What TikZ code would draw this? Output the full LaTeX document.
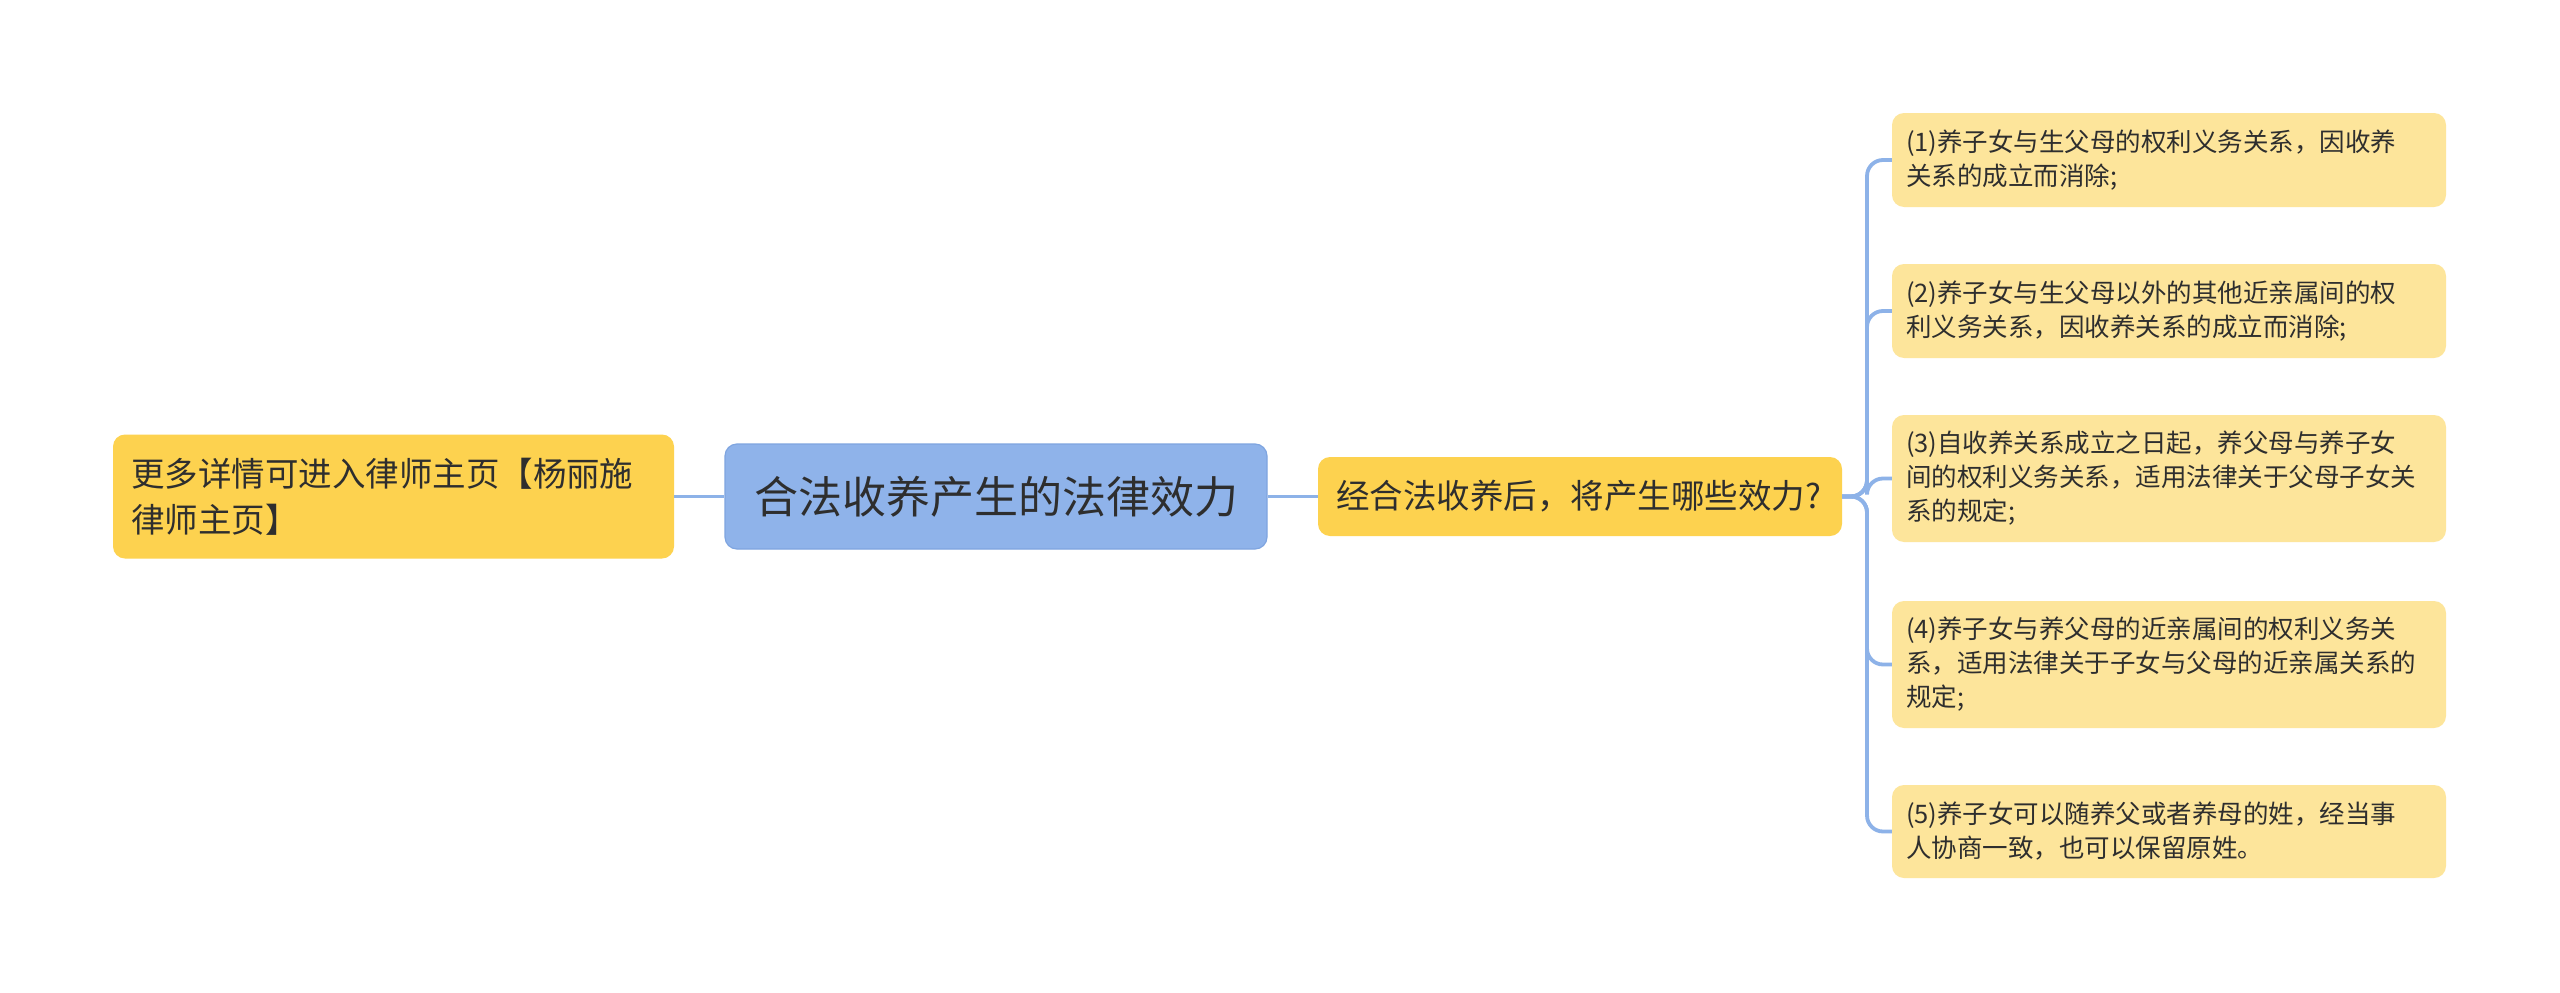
\documentclass[tikz,border=0pt]{standalone}
\usepackage{fontspec}
\setmainfont{Noto Sans CJK SC}
\definecolor{cblue}{HTML}{8FB3EA}
\definecolor{cblueb}{HTML}{7FA5E0}
\definecolor{cyel}{HTML}{FDD24F}
\definecolor{clight}{HTML}{FDE59B}
\definecolor{cline}{HTML}{8DB2E8}
\definecolor{ctext}{HTML}{2E2E2E}
\tikzset{
  boxbase/.style={rounded corners=12pt, align=left, text=ctext, inner ysep=0pt},
  centerbox/.style={boxbase, fill=cblue, draw=cblueb, line width=1.2pt, align=center, font=\fontsize{44}{52}\selectfont},
  yelbox/.style={boxbase, fill=cyel, inner xsep=18pt},
  leafbox/.style={boxbase, fill=clight, inner xsep=14pt, font=\fontsize{25.5}{34}\selectfont},
  conn/.style={draw=cline, line width=3.8pt, rounded corners=16pt}
}
\begin{document}
\begin{tikzpicture}[x=1pt,y=-1pt]
\useasboundingbox (0,0) rectangle (2560,993);
\fill[white] (0,0) rectangle (2560,993);
\node[yelbox, text width=525pt, minimum height=124pt, font=\fontsize{33.5}{46}\selectfont] (left) at (393.5,496.5) {更多详情可进入律师主页【杨丽施\\律师主页】};
\node[centerbox, minimum width=542pt, minimum height=105pt] (center) at (996,496.5) {合法收养产生的法律效力};
\node[yelbox, text width=488pt, inner xsep=18pt, minimum height=79pt, font=\fontsize{33.5}{42}\selectfont] (mid) at (1580,496.5) {经合法收养后，将产生哪些效力?};
\node[leafbox, text width=526pt, minimum height=94pt] (r1) at (2169,160) {(1)养子女与生父母的权利义务关系，因收养\\关系的成立而消除;};
\node[leafbox, text width=526pt, minimum height=94pt] (r2) at (2169,311) {(2)养子女与生父母以外的其他近亲属间的权\\利义务关系，因收养关系的成立而消除;};
\node[leafbox, text width=526pt, minimum height=127pt] (r3) at (2169,478.5) {(3)自收养关系成立之日起，养父母与养子女\\间的权利义务关系，适用法律关于父母子女关\\系的规定;};
\node[leafbox, text width=526pt, minimum height=127pt] (r4) at (2169,664.5) {(4)养子女与养父母的近亲属间的权利义务关\\系，适用法律关于子女与父母的近亲属关系的\\规定;};
\node[leafbox, text width=526pt, minimum height=93pt] (r5) at (2169,831.5) {(5)养子女可以随养父或者养母的姓，经当事\\人协商一致，也可以保留原姓。};
\coordinate (bus) at (1867,496.5);
\draw[conn] (left.east) -- (center.west);
\draw[conn] (center.east) -- (mid.west);
\foreach \r in {r1,r2,r3,r4,r5}{
  \draw[conn] (mid.east) -- (bus) |- (\r.west);
}
\end{tikzpicture}
\end{document}
